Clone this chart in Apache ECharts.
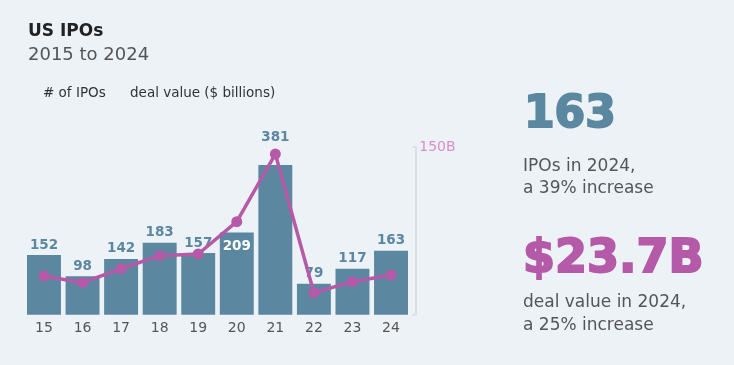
<!DOCTYPE html>
<html><head><meta charset="utf-8">
<script src="https://cdn.jsdelivr.net/npm/echarts@6/dist/echarts.min.js"></script>
<style>html,body{margin:0;padding:0;background:#edf2f7;}#c{width:734px;height:365px;}</style>
</head><body><div id="c"></div>
<script>
const categories = ['15','16','17','18','19','20','21','22','23','24'];
const ipoCounts = [152, 98, 142, 183, 157, 209, 381, 79, 117, 163];
const dealValues = [34.6, 28.6, 41.1, 52.8, 54.3, 83.2, 143.7, 19.7, 29.5, 35.5];
const rightTicks = [0, 150];

const FONT = '"DejaVu Sans", sans-serif';
const BAR = '#5b87a0';
const LINE = '#b45aa8';

const barData = ipoCounts.map((v, i) => {
  const d = { value: v };
  if (categories[i] === '20') d.label = { position: 'insideTop', color: '#ffffff', distance: 7 };
  if (categories[i] === '21') d.label = { distance: 21 };
  return d;
});

const chart = echarts.init(document.getElementById('c'));
chart.setOption({
  backgroundColor: '#edf2f7',
  animation: false,
  grid: { left: 24.7, right: 323.7, top: 147, bottom: 50.3 },
  xAxis: {
    type: 'category', data: categories,
    axisLine: { show: false }, axisTick: { show: false },
    axisLabel: { color: '#555', fontSize: 14, fontFamily: FONT, margin: 7 }
  },
  yAxis: [
    { type: 'value', min: 0, max: 427, show: false },
    { type: 'value', min: rightTicks[0], max: rightTicks[1], interval: 150, position: 'right', offset: 5,
      splitLine: { show: false },
      axisLine: { show: true, lineStyle: { color: '#d6d9dd', width: 1.5 } },
      axisTick: { show: true, inside: true, length: 3, lineStyle: { color: '#d6d9dd', width: 1.5 } },
      axisLabel: { color: '#d98fcb', fontSize: 14, fontFamily: FONT, margin: 4,
        formatter: v => v === 150 ? '150B' : '' } }
  ],
  series: [
    { type: 'bar', data: barData, barCategoryGap: '12%', itemStyle: { color: BAR },
      label: { show: true, position: 'top', distance: 3, color: BAR, fontWeight: 'bold', fontSize: 13.5, fontFamily: FONT } },
    { type: 'line', yAxisIndex: 1, data: dealValues, symbol: 'circle', symbolSize: 11,
      lineStyle: { color: LINE, width: 3.5 }, itemStyle: { color: LINE } }
  ],
  graphic: [
    { type: 'text', left: 28, top: 23, style: { text: 'US IPOs', font: 'bold 17px ' + FONT, fill: '#222' } },
    { type: 'text', left: 28, top: 46, style: { text: '2015 to 2024', font: '18px ' + FONT, fill: '#555' } },
    { type: 'text', left: 43, top: 86, style: { text: '# of IPOs', font: '13.5px ' + FONT, fill: '#333' } },
    { type: 'text', left: 130, top: 86, style: { text: 'deal value ($ billions)', font: '13.5px ' + FONT, fill: '#333' } },
    { type: 'text', left: 523, top: 93, style: { text: '163', font: 'bold 44px ' + FONT, fill: BAR, stroke: BAR, lineWidth: 2, lineJoin: 'round', strokeFirst: true } },
    { type: 'text', left: 523, top: 156, style: { text: 'IPOs in 2024,\na 39% increase', font: '17px ' + FONT, fill: '#555', lineHeight: 22 } },
    { type: 'text', left: 522, top: 236, style: { text: '$23.7B', font: 'bold 46px ' + FONT, fill: LINE, stroke: LINE, lineWidth: 2, lineJoin: 'round', strokeFirst: true } },
    { type: 'text', left: 523, top: 291, style: { text: 'deal value in 2024,\na 25% increase', font: '17px ' + FONT, fill: '#555', lineHeight: 23 } }
  ]
});
</script></body></html>
